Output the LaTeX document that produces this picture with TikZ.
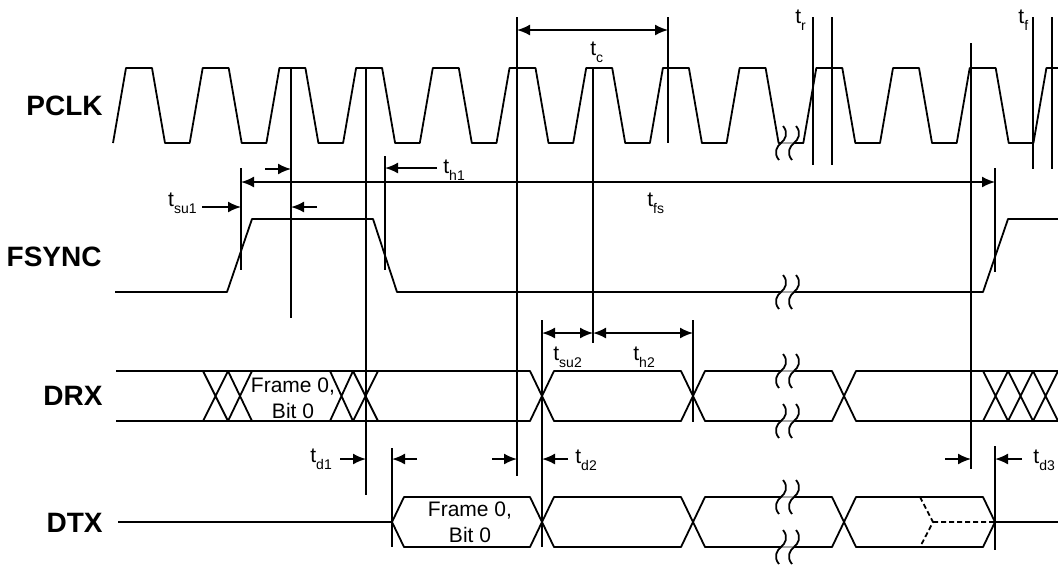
\documentclass[tikz,border=0pt]{standalone}
\usepackage{fontspec}
\setmainfont{Liberation Sans}
\usepackage{tikz}
\usetikzlibrary{arrows.meta}
\tikzstyle{wave}=[line width=0.9pt, line join=round]
\tikzstyle{breakline}=[line width=0.9pt, draw=black!35]
\tikzstyle{marker}=[line width=0.9pt]
\tikzstyle{onearrow}=[line width=0.9pt, -{Latex[length=6.5pt,width=5.5pt]}]
\tikzstyle{twoarrow}=[line width=0.9pt, {Latex[length=6.5pt,width=5.5pt]}-{Latex[length=6.5pt,width=5.5pt]}]
\tikzstyle{siglabel}=[font=\fontsize{14}{16}\selectfont\bfseries, anchor=base east, inner sep=0pt]
\tikzstyle{tlabel}=[font=\fontsize{10.5}{12}\selectfont, anchor=base west, inner sep=0pt]
\tikzstyle{celltext}=[font=\fontsize{10.5}{13}\selectfont, align=center, inner sep=0pt]
\newcommand{\tsub}[1]{t\raisebox{-3.5pt}{\fontsize{7}{8}\selectfont #1}}
% pair of break marks at (x,y)
\newcommand{\brkmark}[2]{%
  \draw[breakline] (#1,#2) -- (#1+13,#2);
  \foreach \bx in {#1, #1+13}
    {\draw[wave] (\bx+2,#2-17) .. controls (\bx+8,#2-10) and (\bx+4,#2-3) .. (\bx,#2)
                .. controls (\bx-4,#2+3) and (\bx-8,#2+10) .. (\bx-2,#2+17);}
}

\begin{document}
\begin{tikzpicture}[x=0.5pt, y=-0.5pt]

	\clip (0,0) rectangle (1058,564);

% Labels
   \node[siglabel] (pclk) at (103,115) {PCLK};
   \node[siglabel] (fsync) at (102,266) {FSYNC};
   \node[siglabel] (drx) at (103,405) {DRX};
   \node[siglabel] (dtx) at (103,532) {DTX};

%PCLK
    \draw[wave] (113,143) \foreach \k in {0,...,7} {-- ++(13,-75) -- ++(26,0) -- ++(13,75) -- ++(24.7,0)}
        -- ++(13,-75) -- ++(26,0) -- ++(13,75) -- (781,143);
    \draw[wave] (794,143) -- (803.3,143) \foreach \k in {9,...,12} {-- ++(13,-75) -- ++(26,0) -- ++(13,75) -- ++(24.7,0)};

%FSYNC
    \draw[wave] (115,292) -- (227,292) -- (252,219) -- (373,219) -- (397,292) -- (781,292);
    \draw[wave] (794,292) -- (983,292) -- (1008,219) -- (1058,219);

%DRX
    \draw[wave] (116,371) -- (530,371) -- (554,421) -- (681,421) -- (705,371) -- (781,371);
    \draw[wave] (116,421) -- (530,421) -- (554,371) -- (681,371) -- (705,421) -- (781,421);
    \draw[wave] (794,371) -- (832,371) -- (856,421) -- (1058,421);
    \draw[wave] (794,421) -- (832,421) -- (856,371) -- (1058,371);
    \foreach \a/\b in {203/228, 228/252, 330/353, 353/378, 983/1008, 1008/1033, 1033/1058}
        \draw[wave] (\a,371) -- (\b,421) (\a,421) -- (\b,371);

%DTX
    \draw[wave] (118,522) -- (392,522) -- (404,497) -- (530,497) -- (554,547) -- (681,547) -- (705,497) -- (781,497);
    \draw[wave] (392,522) -- (404,547) -- (530,547) -- (554,497) -- (681,497) -- (705,547) -- (781,547);
    \draw[wave] (794,497) -- (832,497) -- (856,547) -- (983,547) -- (995,522) -- (1058,522);
    \draw[wave] (794,547) -- (832,547) -- (856,497) -- (983,497) -- (995,522);
    \draw[wave, dash pattern=on 2.5pt off 1.5pt] (920,497) -- (933,522) -- (920,547) (933,522) -- (995,522);

% breaks
    \foreach \y in {143, 292, 371, 421, 497, 547}
        {\brkmark{781}{\y}}

% Marker lines
    \foreach \name/\x/\ya/\yb in {su1/241/168/270, ck2/291/68/318, ck3/366/68/495, h1/385/156/270,
        ck5/517/17/476, su2/542/320/547, ck6/593/68/343, ck7/668/17/143, h2/693/320/422,
        ra/813/17/165, rb/832/17/165, ck11/971/43/469, fs/995/168/272, d3/995/446/550,
        fa/1033/17/169, fb/1052/17/169, d1/392/448/547}
    {
        \coordinate (\name top) at (\x,\ya);
        \coordinate (\name bot) at (\x,\yb);
        \draw[marker] (\name top) -- (\name bot);
    }

% Arrow ends
    \foreach \name/\x/\y in {tca/517/30, tcb/668/30, fsa/241/182, fsb/995/182,
        su2a/542/333, su2b/593/333, h2b/693/333,
        pa/265/169, pb/291/169, h1a/437/168, h1b/385/168,
        su1a/202/207, su1b/241/207, qa/317/207, qb/291/207,
        d1a/340/459, d1b/366/459, ea/417/459, eb/392/459,
        ga/492/459, gb/517/459, d2a/568/459, d2b/542/459,
        ka/945/459, kb/971/459, d3a/1022/459, d3b/995/459}
        \coordinate (\name) at (\x,\y);

    \foreach \source/\dest in {tca/tcb, fsa/fsb, su2a/su2b, su2b/h2b}
        \draw[twoarrow] (\source) -- (\dest);
    \foreach \source/\dest in {pa/pb, h1a/h1b, su1a/su1b, qa/qb, d1a/d1b, ea/eb, ga/gb, d2a/d2b, ka/kb, d3a/d3b}
        \draw[onearrow] (\source) -- (\dest);

% Times
   \node[tlabel] (tc) at (590,55) {\tsub{c}};
   \node[tlabel] (th1) at (443,173) {\tsub{h1}};
   \node[tlabel] (tfs) at (647,206) {\tsub{fs}};
   \node[tlabel, anchor=base east] (tsu1) at (197,206) {\tsub{su1}};
   \node[tlabel] (tsu2) at (553,360) {\tsub{su2}};
   \node[tlabel] (th2) at (633,360) {\tsub{h2}};
   \node[tlabel] (td1) at (310,462) {\tsub{d1}};
   \node[tlabel] (td2) at (575,463) {\tsub{d2}};
   \node[tlabel] (td3) at (1033,463) {\tsub{d3}};
   \node[tlabel] (tr) at (795,23) {\tsub{r}};
   \node[tlabel] (tf) at (1018,23) {\tsub{f}};

% Frame text
   \node[celltext] (drxtext) at (293,398) {Frame 0,\\Bit 0};
   \node[celltext] (dtxtext) at (470,522) {Frame 0,\\Bit 0};

\end{tikzpicture}
\end{document}
